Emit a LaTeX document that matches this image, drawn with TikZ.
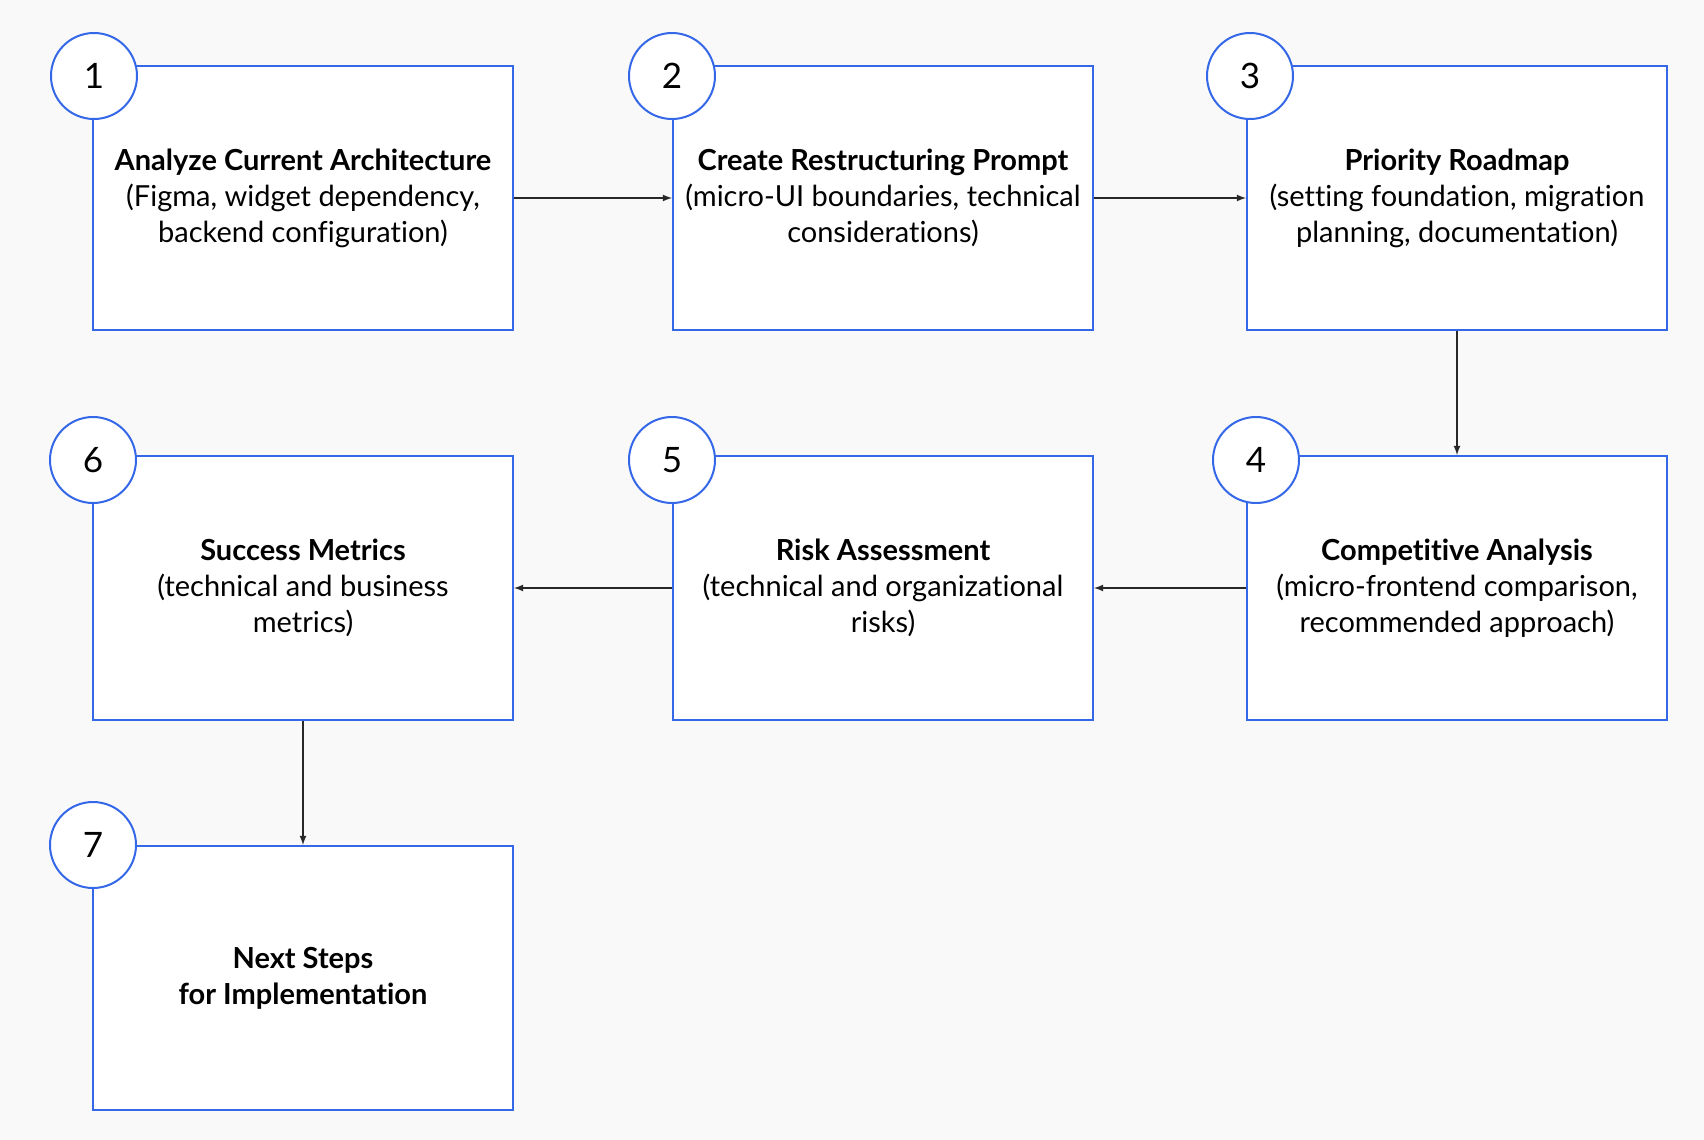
\documentclass[tikz,border=0pt]{standalone}
\usepackage{fontspec}
\setmainfont{Lato}[Ligatures=NoCommon]
\usetikzlibrary{positioning}
\definecolor{stepblue}{RGB}{52,104,232}
\definecolor{canvas}{RGB}{249,249,249}
\definecolor{arrowgray}{RGB}{40,40,40}
\newcommand{\steptitle}[1]{\textbf{#1}}

\begin{document}
\begin{tikzpicture}[
    node distance=62pt and 79pt,
    stepbox/.style={rectangle,draw=stepblue,fill=white,line width=1pt,
      minimum width=210pt,minimum height=132pt,align=center,
      font=\fontsize{14.5}{18}\selectfont},
    num/.style={circle,draw=stepblue,fill=white,line width=1pt,
      minimum size=43pt,inner sep=0pt,font=\fontsize{17.5}{20}\selectfont},
    flow/.style={->,draw=arrowgray,line width=0.6pt},
    >=latex
  ]
  \fill[canvas] (0,0) rectangle (852pt,-570pt);
  \useasboundingbox (0,0) rectangle (852pt,-570pt);

  \node[stepbox] (analyze) at (151.5pt,-99pt) {%
    \steptitle{Analyze Current Architecture}\\
    (Figma, widget dependency,\\
    backend configuration)};
  \node[stepbox,right=of analyze] (prompt) {%
    \steptitle{Create Restructuring Prompt}\\
    (micro-UI boundaries, technical\\
    considerations)};
  \node[stepbox,right=76pt of prompt] (roadmap) {%
    \steptitle{Priority Roadmap}\\
    (setting foundation, migration\\
    planning, documentation)};
  \node[stepbox,below=of roadmap] (competitive) {%
    \steptitle{Competitive Analysis}\\
    (micro-frontend comparison,\\
    recommended approach)};
  \node[stepbox,below=of prompt] (risk) {%
    \steptitle{Risk Assessment}\\
    (technical and organizational\\
    risks)};
  \node[stepbox,below=of analyze] (metrics) {%
    \steptitle{Success Metrics}\\
    (technical and business\\
    metrics)};
  \node[stepbox,below=of metrics] (nextsteps) {%
    \steptitle{Next Steps}\\
    \steptitle{for Implementation}};

  % Numbers
  \node[num] (n1) at ([shift={(1pt,-5.5pt)}]analyze.north west) {1};
  \node[num] (n2) at ([shift={(0pt,-5.5pt)}]prompt.north west) {2};
  \node[num] (n3) at ([shift={(2pt,-5.5pt)}]roadmap.north west) {3};
  \node[num] (n4) at ([shift={(5pt,-2.5pt)}]competitive.north west) {4};
  \node[num] (n5) at ([shift={(0pt,-2.5pt)}]risk.north west) {5};
  \node[num] (n6) at ([shift={(0.5pt,-2.5pt)}]metrics.north west) {6};
  \node[num] (n7) at ([shift={(0.5pt,0pt)}]nextsteps.north west) {7};

  % Flow
  \draw[flow] (analyze.east) -- (prompt.west);
  \draw[flow] (prompt.east) -- (roadmap.west);
  \draw[flow] (roadmap.south) -- (competitive.north);
  \draw[flow] (competitive.west) -- (risk.east);
  \draw[flow] (risk.west) -- (metrics.east);
  \draw[flow] (metrics.south) -- (nextsteps.north);
\end{tikzpicture}
\end{document}
